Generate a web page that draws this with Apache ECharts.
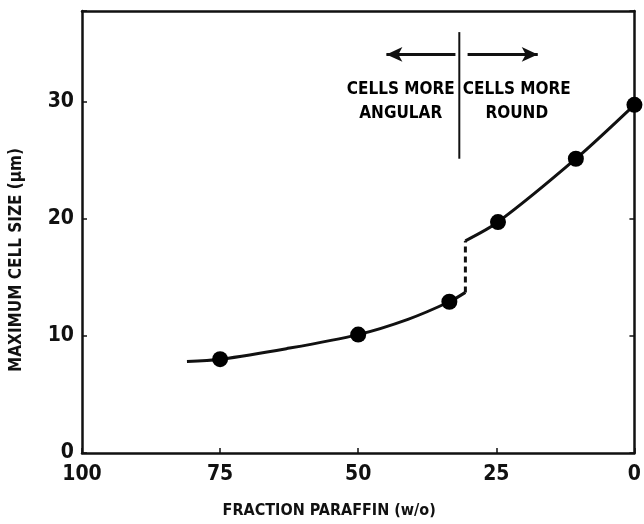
<!DOCTYPE html>
<html>
<head>
<meta charset="utf-8">
<script src="https://cdn.jsdelivr.net/npm/echarts@6/dist/echarts.min.js"></script>
<style>html,body{margin:0;padding:0;background:#fff}#c{width:644px;height:524px}</style>
</head>
<body>
<div id="c"></div>
<script>
// Measured points (fraction paraffin w/o, max cell size µm)
const pointsX = [75, 50, 33.5, 24.7, 10.6, 0];
const pointsY = [8.0, 10.1, 12.9, 19.7, 25.1, 29.7];
// Curve traced through the figure (lower branch, jump, upper branch)
const lowerCurve = [[81, 7.8], [75, 8.0], [63, 8.9], [50, 10.1], [41, 11.4], [33.5, 12.9], [30.6, 13.7]];
const jumpLine = [[30.6, 13.7], [30.6, 18.1]];
const upperCurve = [[30.6, 18.1], [24.7, 19.7], [10.6, 25.1], [0, 29.7]];
const dividerLine = [[31.7, 25.1], [31.7, 35.9]];
const arrowLeft = [[32.4, 34.0], [44.9, 34.0]];
const arrowRight = [[30.2, 34.0], [17.5, 34.0]];
const labelLeft = [42.3, 30.0];
const labelRight = [21.3, 30.0];
const xTicks = [100, 75, 50, 25, 0];
const yTicks = [0, 10, 20, 30];

const FONT = '"Liberation Sans Narrow", "DejaVu Sans", sans-serif';
const WEIGHT = 'bold condensed';
const INK = '#111';

const chart = echarts.init(document.getElementById('c'), null, {renderer: 'canvas'});
const axisCommon = {
  axisLine: {show: true, onZero: false, lineStyle: {color: INK, width: 2.5}},
  axisTick: {show: true, inside: true, length: 5, lineStyle: {color: INK, width: 1.5}},
  splitLine: {show: false}
};
chart.setOption({
  animation: false,
  backgroundColor: '#fff',
  grid: {left: 82, right: 3, top: 11, bottom: 69, show: false},
  xAxis: [{
    type: 'value', min: 0, max: 100, interval: 25, inverse: true,
    ...axisCommon,
    axisLabel: {color: INK, fontFamily: FONT, fontWeight: WEIGHT, fontSize: 21, margin: 11,
      formatter: v => xTicks.includes(v) ? String(v) : ''},
    name: 'FRACTION PARAFFIN (w/o)', nameLocation: 'middle', nameGap: 50,
    nameTextStyle: {color: INK, fontFamily: FONT, fontWeight: WEIGHT, fontSize: 16, padding: [0, 58, 0, 0]}
  }, {
    type: 'value', min: 0, max: 100, interval: 25, inverse: true, position: 'top',
    axisLine: {show: true, onZero: false, lineStyle: {color: INK, width: 2.5}},
    axisTick: {show: false}, axisLabel: {show: false}, splitLine: {show: false}
  }],
  yAxis: [{
    type: 'value', min: 0, max: 37.7, interval: 10,
    ...axisCommon,
    axisLabel: {color: INK, fontFamily: FONT, fontWeight: WEIGHT, fontSize: 21, margin: 8,
      formatter: v => yTicks.includes(v) ? String(v) : ''},
    name: 'MAXIMUM CELL SIZE (μm)', nameLocation: 'middle', nameGap: 57, nameRotate: 90,
    nameTextStyle: {color: INK, fontFamily: FONT, fontWeight: WEIGHT, fontSize: 17, padding: [0, 56, 0, 0]}
  }, {
    type: 'value', min: 0, max: 37.7, interval: 10, position: 'right',
    ...axisCommon,
    axisLabel: {show: false}
  }],
  series: [
    {type: 'line', data: lowerCurve, smooth: 0.3, symbol: 'none', lineStyle: {color: INK, width: 3}},
    {type: 'line', data: jumpLine, symbol: 'none', lineStyle: {color: INK, width: 3, type: [6, 4]}},
    {type: 'line', data: upperCurve, smooth: 0.3, symbol: 'none', lineStyle: {color: INK, width: 3}},
    {type: 'line', data: dividerLine, symbol: 'none', lineStyle: {color: INK, width: 2}},
    {type: 'scatter', data: pointsX.map((x, i) => [x, pointsY[i]]), symbol: 'circle', symbolSize: 16,
      itemStyle: {color: '#000', opacity: 1}, z: 5},
    {type: 'line', data: [], markLine: {
      silent: true, symbol: ['none', 'arrow'], symbolSize: [11, 16],
      label: {show: false}, lineStyle: {color: INK, width: 3, type: 'solid'},
      data: [
        [{coord: arrowLeft[0]}, {coord: arrowLeft[1]}],
        [{coord: arrowRight[0]}, {coord: arrowRight[1]}]
      ]}},
    {type: 'scatter', symbol: 'circle', symbolSize: 1, silent: true,
      itemStyle: {color: 'rgba(0,0,0,0)', opacity: 1},
      data: [
        {value: labelLeft, label: {formatter: 'CELLS MORE\nANGULAR'}},
        {value: labelRight, label: {formatter: 'CELLS MORE\nROUND'}}
      ],
      label: {show: true, position: 'inside', align: 'center', verticalAlign: 'middle', opacity: 1,
        color: '#000', fontFamily: FONT, fontWeight: WEIGHT, fontSize: 17, lineHeight: 24}}
  ]
});
</script>
</body>
</html>
